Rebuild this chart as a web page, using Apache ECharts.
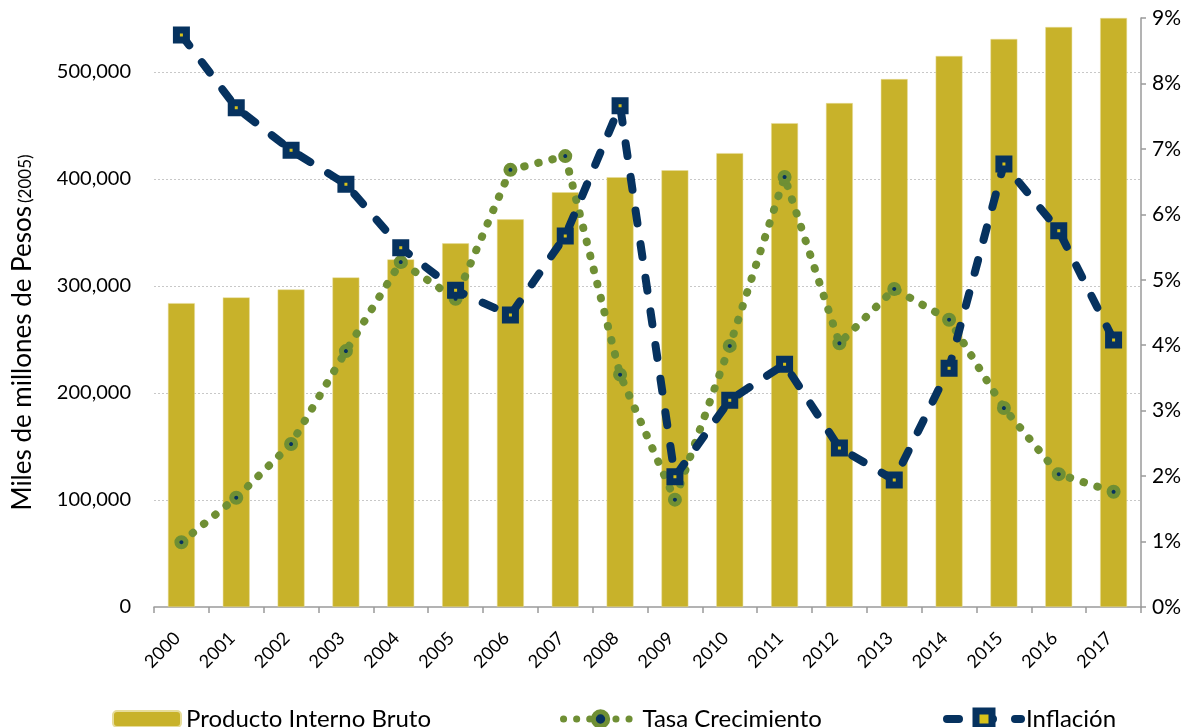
<!DOCTYPE html>
<html>
<head>
<meta charset="utf-8">
<script src="https://cdn.jsdelivr.net/npm/echarts@6/dist/echarts.min.js"></script>
<style>html,body{margin:0;padding:0;background:#fff;}#c{width:1201px;height:727px;}</style>
</head>
<body>
<div id="c"></div>
<script>
var years = ['2000','2001','2002','2003','2004','2005','2006','2007','2008','2009','2010','2011','2012','2013','2014','2015','2016','2017'];
var pib = [284000,289300,296800,308000,324900,339900,362300,387600,401700,408200,424200,452200,471000,493400,515000,530900,542100,550500];
var tasa = [0.99,1.67,2.49,3.91,5.27,4.71,6.68,6.89,3.55,1.64,3.99,6.57,4.03,4.86,4.39,3.04,2.03,1.76];
var inflacion = [8.74,7.63,6.98,6.46,5.49,4.84,4.46,5.67,7.66,1.99,3.16,3.71,2.43,1.94,3.65,6.77,5.75,4.08];
var leftTicks = [0,100000,200000,300000,400000,500000];
var rightTicks = [0,1,2,3,4,5,6,7,8,9];

var FONT = 'Lato';
var NAVY = '#06325F', GREEN = '#6F8F34', GOLD = '#C8B22A';
var chart = echarts.init(document.getElementById('c'));
function legendCfg(name, left, w, extra){
  var o = {data:[name], left:left, top:702, itemWidth:w, itemHeight:16, itemGap:8,
    textStyle:{fontFamily:FONT, fontSize:24, color:'#000'}, selectedMode:false};
  for (var k in extra) o[k] = extra[k];
  return o;
}
chart.setOption({
  animation:false,
  textStyle:{fontFamily:FONT},
  grid:{left:154, right:60, top:18, bottom:120, containLabel:false, outerBoundsMode:'none'},
  legend:[
    legendCfg('Producto Interno Bruto',107,68,{}),
    legendCfg('Tasa Crecimiento',555,74,{itemHeight:18,
      lineStyle:{width:7, type:[0.1,13], cap:'round', color:GREEN},
      itemStyle:{color:NAVY, borderColor:GREEN, borderWidth:5}}),
    legendCfg('Inflación',938,74,{itemHeight:20,
      lineStyle:{width:8, type:[12,22], cap:'round', color:NAVY},
      itemStyle:{color:'#D8C21A', borderColor:NAVY, borderWidth:7}})
  ],
  xAxis:{type:'category', data:years,
    axisLine:{lineStyle:{color:'#9a9a9a', width:1.5}},
    axisTick:{show:true, length:6, lineStyle:{color:'#9a9a9a', width:1.5}},
    axisLabel:{rotate:45, fontSize:18, color:'#000', margin:24, padding:[0,6,0,0], fontFamily:FONT}},
  yAxis:[{type:'value', min:0, max:550500, interval:100000,
      name:'{a|Miles de millones de Pesos} {b|(2005)}', nameLocation:'middle', nameGap:116, nameRotate:90,
      nameTextStyle:{rich:{a:{fontSize:26, fontFamily:FONT, color:'#000', lineHeight:30},
                           b:{fontSize:17, fontFamily:FONT, color:'#000', lineHeight:30, padding:[5,40,0,0]}}},
      axisLine:{show:false}, axisTick:{show:false},
      axisLabel:{fontSize:20, color:'#000', margin:23, fontFamily:FONT, showMaxLabel:false,
        formatter:function(v){return leftTicks.indexOf(v)>=0 ? v.toLocaleString('en-US') : '';}},
      splitLine:{show:true, showMinLine:false, showMaxLine:false, lineStyle:{color:'#c8c8c8', type:[2,2], width:1}}},
    {type:'value', min:0, max:9, interval:1, position:'right',
      axisLine:{show:true, lineStyle:{color:'#9a9a9a', width:1.5}},
      axisTick:{show:true, length:5, lineStyle:{color:'#9a9a9a', width:1.5}},
      axisLabel:{fontSize:21, color:'#000', margin:11, fontFamily:FONT,
        formatter:function(v){return rightTicks.indexOf(v)>=0 ? v+'%' : '';}},
      splitLine:{show:false}}],
  series:[
    {name:'Producto Interno Bruto', type:'bar', data:pib, barWidth:'49%',
      itemStyle:{color:GOLD, borderColor:'#e6dc9a', borderWidth:0.5}},
    {name:'Tasa Crecimiento', type:'line', yAxisIndex:1, data:tasa, z:3,
      lineStyle:{color:GREEN, width:8, type:[0.5,14], cap:'round'},
      symbol:'circle', symbolSize:9,
      itemStyle:{color:NAVY, borderColor:GREEN, borderWidth:5}},
    {name:'Inflación', type:'line', yAxisIndex:1, data:inflacion, z:4,
      lineStyle:{color:NAVY, width:8, type:[13,21], cap:'round'},
      symbol:'rect', symbolSize:10,
      itemStyle:{color:'#D8C21A', borderColor:NAVY, borderWidth:7}}
  ]
});
</script>
</body>
</html>
